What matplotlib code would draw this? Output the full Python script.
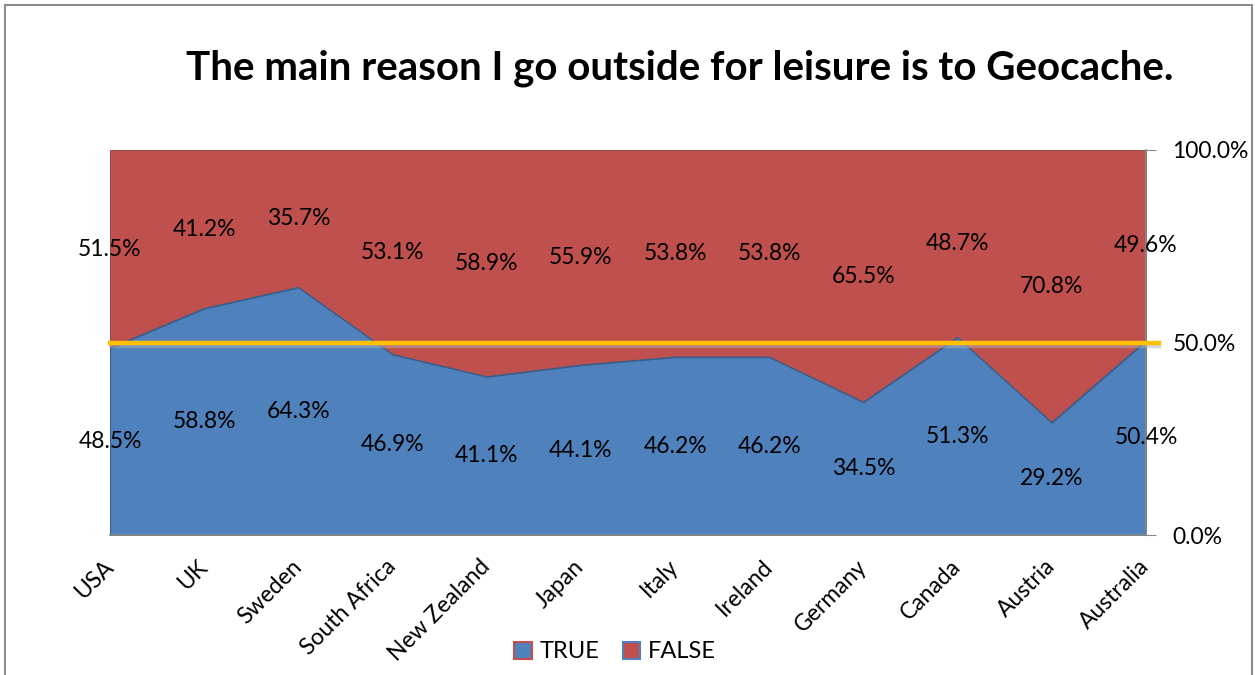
import matplotlib
matplotlib.use("Agg")
import matplotlib.pyplot as plt
from matplotlib.patches import Patch, Rectangle
from matplotlib.ticker import PercentFormatter
import numpy as np

countries = ["USA", "UK", "Sweden", "South Africa", "New Zealand", "Japan",
             "Italy", "Ireland", "Germany", "Canada", "Austria", "Australia"]
true_pct = [48.5, 58.8, 64.3, 46.9, 41.1, 44.1, 46.2, 46.2, 34.5, 51.3, 29.2, 50.4]
false_pct = [51.5, 41.2, 35.7, 53.1, 58.9, 55.9, 53.8, 53.8, 65.5, 48.7, 70.8, 49.6]
threshold = 50.0
right_ticks = [0, 50, 100]
title = "The main reason I go outside for leisure is to Geocache."

BLUE = "#4F81BD"
RED = "#C0504D"
YELLOW = "#FFC000"

plt.rcParams['font.family'] = ['Lato', 'DejaVu Sans']

fig = plt.figure(figsize=(12.55, 6.75), dpi=100)
ax = fig.add_axes([110/1255, 1-535/675, (1146-110)/1255, (535-150)/675])

x = np.arange(len(countries))
t = np.array(true_pct)
f = np.array(false_pct)

ax.fill_between(x, 0, t, facecolor=BLUE, edgecolor="#3A5F8B", linewidth=0.8, zorder=2)
ax.fill_between(x, t, t + f, facecolor=RED, edgecolor="#8B3A38", linewidth=0.6, zorder=1)
ax.plot(x, t, color="#3A5F8B", lw=0.9, zorder=3)

# threshold line with faint shadow
ax.axhline(threshold - 0.9, xmin=0, xmax=1.013, color="#b0b0b0", lw=2.5, alpha=0.5,
           clip_on=False, zorder=3)
ax.axhline(threshold, xmin=0, xmax=1.013, color=YELLOW, lw=3.2, clip_on=False, zorder=4)

LBL = 16.5
for i in range(len(countries)):
    ax.text(x[i], t[i] / 2, f"{t[i]:.1f}%", ha="center", va="center", fontsize=LBL, zorder=5)
    ax.text(x[i], t[i] + f[i] / 2, f"{f[i]:.1f}%", ha="center", va="center", fontsize=LBL, zorder=5)

ax.set_xlim(0, len(countries) - 1)
ax.set_ylim(0, 100)

ax.yaxis.tick_right()
ax.set_yticks(right_ticks)
ax.yaxis.set_major_formatter(PercentFormatter(decimals=1))
ax.tick_params(axis="y", labelsize=16.5, length=7, color="#888888", pad=12, direction="out")

ax.set_xticks(x)
ax.set_xticklabels([])
ax.tick_params(axis="x", length=0)
for i, c in enumerate(countries):
    ax.annotate(c, xy=(x[i], 0), xycoords="data", xytext=(-5.5, -15), textcoords="offset points",
                rotation=45, ha="right", va="top", rotation_mode="anchor", fontsize=LBL,
                annotation_clip=False)

for s in ["top", "left"]:
    ax.spines[s].set_visible(False)
ax.spines["right"].set_color("#888888")
ax.spines["bottom"].set_color("#888888")
ax.spines["right"].set_linewidth(1.2)
ax.spines["bottom"].set_linewidth(1.2)

fig.text(680/1255, 1-68/675, title, ha="center", va="center", fontsize=29, fontweight="bold")

handles = [Patch(facecolor=BLUE, edgecolor=RED, linewidth=1.5, label="TRUE"),
           Patch(facecolor=RED, edgecolor=BLUE, linewidth=1.5, label="FALSE")]
fig.legend(handles=handles, loc="center", bbox_to_anchor=(615/1255, 1-652/675), ncol=2,
           frameon=False, fontsize=17, handlelength=0.75, handleheight=0.75,
           handletextpad=0.3, columnspacing=1.0)

fig.patches.append(Rectangle((5/1255, -0.05), (1252-5)/1255, 1.05 - 5/675,
                             transform=fig.transFigure, fill=False, edgecolor="#8c8c8c",
                             linewidth=1.5))

fig.savefig("out.png", dpi=100)
